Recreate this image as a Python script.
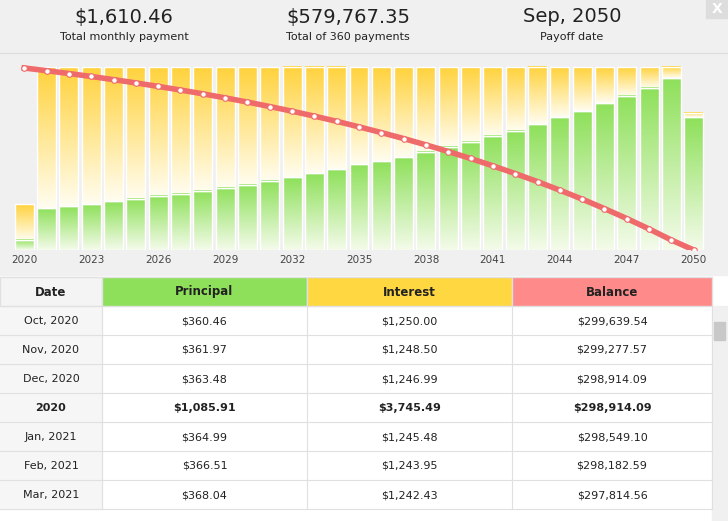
import numpy as np, pandas as pd, seaborn as sns, matplotlib
matplotlib.use("Agg")
import matplotlib.pyplot as plt
from matplotlib.patches import Rectangle
from matplotlib.colors import LinearSegmentedColormap

years = list(range(2020, 2051))
principal = [1086, 4430, 4650, 4860, 5180, 5400, 5720, 5940, 6260, 6590, 6910, 7340, 7670, 8100, 8530,
             9070, 9400, 9830, 10370, 10910, 11450, 12100, 12640, 13280, 14040, 14690, 15550, 16310,
             17170, 18150, 14040]
totals = [4831] + [19325] * 29 + [14494]
balance = [298914, 294480, 289830, 284970, 279790, 274390, 268670, 262730, 256470, 249880, 242970,
           235630, 227960, 219860, 211330, 202260, 192860, 183030, 172660, 161750, 150300, 138200,
           125560, 112280, 98240, 83550, 68000, 51690, 34520, 16370, 0]
tick_years = [str(y) for y in range(2020, 2051, 3)]
header_vals = ["$1,610.46", "$579,767.35", "Sep, 2050"]
header_lbls = ["Total monthly payment", "Total of 360 payments", "Payoff date"]
col_names = ["Date", "Principal", "Interest", "Balance"]
rows = [["Oct, 2020", "$360.46", "$1,250.00", "$299,639.54"],
        ["Nov, 2020", "$361.97", "$1,248.50", "$299,277.57"],
        ["Dec, 2020", "$363.48", "$1,246.99", "$298,914.09"],
        ["2020", "$1,085.91", "$3,745.49", "$298,914.09"],
        ["Jan, 2021", "$364.99", "$1,245.48", "$298,549.10"],
        ["Feb, 2021", "$366.51", "$1,243.95", "$298,182.59"],
        ["Mar, 2021", "$368.04", "$1,242.43", "$297,814.56"]]

W, H = 728, 521
fig = plt.figure(figsize=(7.28, 5.21), dpi=100)
bg = fig.add_axes([0, 0, 1, 1]); bg.set_xlim(0, W); bg.set_ylim(H, 0); bg.axis("off")
bg.add_patch(Rectangle((0, 0), W, 275, color="#f0f0f0", zorder=0))
bg.add_patch(Rectangle((706, 0), 22, 18, color="#dddddd", zorder=1))
bg.text(717, 9, "X", color="white", ha="center", va="center", fontsize=10, weight="bold")
for i, (v, l) in enumerate(zip(header_vals, header_lbls)):
    x = 124 + i * 224
    bg.text(x, 17, v, ha="center", va="center", fontsize=14, color="#222")
    bg.text(x, 37, l, ha="center", va="center", fontsize=8, color="#222")
bg.plot([0, W], [53, 53], color="#dddddd", lw=0.8)

ax = fig.add_axes([12 / W, 1 - 250 / H, 694 / W, 190 / H])
df = pd.DataFrame({"year": [str(y) for y in years], "p": principal, "t": totals})
sns.barplot(data=df, x="year", y="t", color="#ffd23c", width=0.85, ax=ax, saturation=1)
sns.barplot(data=df, x="year", y="p", color="#8ee05a", width=0.85, ax=ax, saturation=1)
ax.set_ylim(0, 20100)
ax.set_xlim(-0.55, 30.55)
gcm = LinearSegmentedColormap.from_list("g", ["#f4fbea", "#8ee05a"])
ycm = LinearSegmentedColormap.from_list("y", ["#fffdf0", "#ffd23c"])
grad = np.linspace(0, 1, 256).reshape(-1, 1)
for i, p in enumerate(list(ax.patches)):
    x0, w, h = p.get_x(), p.get_width(), p.get_height()
    if i < 31:
        y0b = principal[i]; hh = totals[i] - principal[i]; cm = ycm
    else:
        y0b = 0; hh = h; cm = gcm
    ax.imshow(grad, cmap=cm, origin="lower", aspect="auto",
              extent=(x0, x0 + w, y0b, y0b + hh), zorder=2)
    ax.add_patch(Rectangle((x0, y0b), w, hh, fill=False, ec="white", lw=1, zorder=3))
ax2 = ax.twinx()
ax2.set_ylim(0, 300000 * 20100 / 19325)
ax2.plot(range(31), balance, color="#ef6a6a", lw=4, zorder=5)
ax2.plot(range(31), balance, "o", ms=4, mfc="white", mec="#ef6a6a", mew=0.8, zorder=6)
ax2.axis("off")
ax.set_xticks(range(0, 31, 3)); ax.set_xticklabels(tick_years, fontsize=7.5, color="#444")
ax.tick_params(length=0)
ax.set_yticks([]); ax.set_xlabel(""); ax.set_ylabel("")
for s in ax.spines.values(): s.set_visible(False)
ax.set_facecolor("none")

cols = [0, 102, 307, 512, 712]
hcol = ["#f4f4f4", "#8ee05a", "#ffd740", "#ff8a8a"]
for j in range(4):
    bg.add_patch(Rectangle((cols[j], 277), cols[j + 1] - cols[j], 29, color=hcol[j], ec="#e0e0e0"))
    bg.text((cols[j] + cols[j + 1]) / 2, 292, col_names[j], ha="center", va="center",
            fontsize=8.5, weight="bold", color="#222")
bg.add_patch(Rectangle((0, 306), W, H - 306, color="white", zorder=0.5))
bg.add_patch(Rectangle((0, 306), 102, 29 * 7, color="#f6f6f6", zorder=0.6))
for r, row in enumerate(rows):
    y = 306 + r * 29
    bg.plot([0, 712], [y + 29, y + 29], color="#e0e0e0", lw=0.8)
    for j in range(4):
        bg.plot([cols[j + 1]] * 2, [y, y + 29], color="#e0e0e0", lw=0.8)
        bg.text((cols[j] + cols[j + 1]) / 2, y + 15, row[j], ha="center", va="center", fontsize=8,
                color="#222", weight="bold" if r == 3 else "normal")
bg.add_patch(Rectangle((712, 306), 16, H - 306, color="#f0f0f0"))
bg.add_patch(Rectangle((714, 322), 11, 18, color="#c8c8c8"))
fig.savefig("out.png", dpi=100)
